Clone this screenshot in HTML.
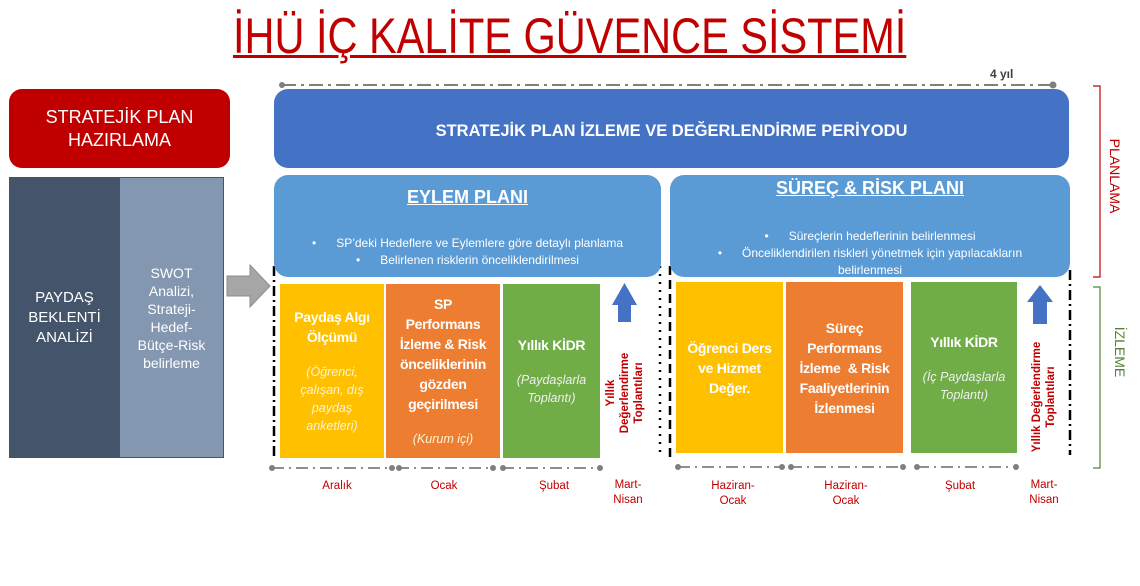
<!DOCTYPE html>
<html><head><meta charset="utf-8"><style>
body{margin:0;width:1140px;height:586px;background:#fff;position:relative;overflow:hidden;font-family:"Liberation Sans",sans-serif}
.a{position:absolute;box-sizing:border-box}
.c{display:flex;align-items:center;justify-content:center;text-align:center;flex-direction:column}
.w{color:#fff}
.b{font-weight:bold}
.vt{position:absolute;transform:rotate(-90deg);transform-origin:center;white-space:nowrap;text-align:center}
.lbl{position:absolute;color:#c00000;font-size:11.5px;text-align:center;line-height:15px;width:80px}
.tb{font-size:14px;font-weight:bold;line-height:20px;letter-spacing:-0.3px}
.it{font-size:12.5px;font-style:italic;line-height:18px;color:#fff3d0}
</style></head><body>
<div class="a" style="left:0;top:8px;width:1140px;text-align:center;color:#c00000;font-size:50px;line-height:56px;"><span style="display:inline-block;transform:scaleX(0.83);text-decoration:underline;text-decoration-thickness:3px;">İHÜ İÇ KALİTE GÜVENCE SİSTEMİ</span></div>

<div class="a c w" style="left:9px;top:89px;width:221px;height:79px;background:#c00000;border-radius:13px;font-size:18px;line-height:23px">STRATEJİK PLAN<br>HAZIRLAMA</div>
<div class="a c w" style="left:9px;top:177px;width:111px;height:281px;background:#44546a;font-size:15px;line-height:20px">PAYDAŞ<br>BEKLENTİ<br>ANALİZİ</div>
<div class="a c w" style="left:119px;top:177px;width:105px;height:281px;background:#8497b0;border:1px solid #44546a;font-size:14px;line-height:18px">SWOT<br>Analizi,<br>Strateji-<br>Hedef-<br>Bütçe-Risk<br>belirleme</div>
<svg class="a" style="left:0;top:0" width="1140" height="586">
<polygon points="227,276 250,276 250,265 270,286 250,307 250,296 227,296" fill="#a6a6a6" stroke="#8c8c8c"/>
<line x1="282" y1="85" x2="1053" y2="85" stroke="#7f7f7f" stroke-width="2" stroke-dasharray="14,5,3,5"/>
<circle cx="282" cy="85" r="3" fill="#7f7f7f"/><circle cx="1053" cy="85" r="3.5" fill="#7f7f7f"/>
<g stroke="#000" stroke-width="2.5">
<line x1="274" y1="266" x2="274" y2="460" stroke-dasharray="10,4,2,4"/>
<line x1="660" y1="266" x2="660" y2="458" stroke-dasharray="2,6"/>
<line x1="670" y1="266" x2="670" y2="458" stroke-dasharray="9,5"/>
<line x1="1070" y1="270" x2="1070" y2="455" stroke-dasharray="10,4,2,4"/>
</g>
<g stroke="#7f7f7f" stroke-width="1.8" stroke-dasharray="12,5,2,5" fill="#7f7f7f">
<line x1="272" y1="468" x2="392" y2="468"/><line x1="397" y1="468" x2="493" y2="468"/><line x1="502" y1="468" x2="600" y2="468"/>
<line x1="678" y1="467" x2="782" y2="467"/><line x1="790" y1="467" x2="903" y2="467"/><line x1="917" y1="467" x2="1016" y2="467"/>
</g>
<g fill="#7f7f7f">
<circle cx="272" cy="468" r="3"/><circle cx="392" cy="468" r="3"/><circle cx="399" cy="468" r="3"/><circle cx="493" cy="468" r="3"/><circle cx="503" cy="468" r="3"/><circle cx="600" cy="468" r="3"/>
<circle cx="678" cy="467" r="3"/><circle cx="782" cy="467" r="3"/><circle cx="791" cy="467" r="3"/><circle cx="903" cy="467" r="3"/><circle cx="917" cy="467" r="3"/><circle cx="1016" cy="467" r="3"/>
</g>
<polygon points="612,305 618,305 618,322 631,322 631,305 637,305 624.5,283" fill="#4472c4"/>
<polygon points="1027,302 1033,302 1033,324 1047,324 1047,302 1053,302 1040,285" fill="#4472c4"/>
<polyline points="1093,86 1100,86 1100,277 1093,277" fill="none" stroke="#c00000" stroke-width="1.2"/>
<polyline points="1093,287 1100,287 1100,468 1093,468" fill="none" stroke="#548235" stroke-width="1.2"/>
</svg>
<div class="a" style="left:990px;top:67px;font-size:12px;font-weight:bold;color:#404040">4 yıl</div>

<div class="a c w b" style="left:274px;top:89px;width:795px;height:79px;padding-top:5px;background:#4472c4;border-radius:14px;font-size:16.5px">STRATEJİK PLAN İZLEME VE DEĞERLENDİRME PERİYODU</div>

<div class="a w" style="left:274px;top:175px;width:387px;height:102px;background:#5b9bd5;border-radius:14px;text-align:center">
<div class="b" style="font-size:18px;margin-top:12px;text-decoration:underline">EYLEM PLANI</div>
<div style="font-size:12px;line-height:17px;margin-top:27px">•&nbsp;&nbsp;&nbsp;&nbsp;&nbsp; SP’deki Hedeflere ve Eylemlere göre detaylı planlama<br>•&nbsp;&nbsp;&nbsp;&nbsp;&nbsp; Belirlenen risklerin önceliklendirilmesi</div></div>
<div class="a w" style="left:670px;top:175px;width:400px;height:102px;background:#5b9bd5;border-radius:14px;text-align:center">
<div class="b" style="font-size:18px;margin-top:3px;text-decoration:underline">SÜREÇ &amp; RİSK PLANI</div>
<div style="font-size:12px;line-height:17px;margin-top:29px">•&nbsp;&nbsp;&nbsp;&nbsp;&nbsp; Süreçlerin hedeflerinin belirlenmesi<br>•&nbsp;&nbsp;&nbsp;&nbsp;&nbsp; Önceliklendirilen riskleri yönetmek için yapılacakların<br>belirlenmesi</div></div>

<div class="a c w" style="left:280px;top:284px;width:104px;height:174px;background:#ffc000"><div class="tb">Paydaş Algı<br>Ölçümü</div><div class="it" style="margin-top:16px">(Öğrenci,<br>çalışan, dış<br>paydaş<br>anketleri)</div></div>
<div class="a c w" style="left:386px;top:284px;width:114px;height:174px;background:#ed7d31"><div class="tb">SP<br>Performans<br>İzleme &amp; Risk<br>önceliklerinin<br>gözden<br>geçirilmesi</div><div class="it" style="margin-top:16px">(Kurum içi)</div></div>
<div class="a c w" style="left:503px;top:284px;width:97px;height:174px;background:#70ad47"><div class="tb">Yıllık KİDR</div><div class="it" style="margin-top:16px;color:#f0f0f0">(Paydaşlarla<br>Toplantı)</div></div>
<div class="vt b" style="left:570px;top:372px;width:110px;font-size:11.5px;line-height:14px;color:#c00000">Yıllık<br>Değerlendirme<br>Toplantıları</div>

<div class="a c w" style="left:676px;top:282px;width:107px;height:171px;background:#ffc000"><div class="tb">Öğrenci Ders<br>ve Hizmet<br>Değer.</div></div>
<div class="a c w" style="left:786px;top:282px;width:117px;height:171px;background:#ed7d31"><div class="tb">Süreç<br>Performans<br>İzleme &nbsp;&amp; Risk<br>Faaliyetlerinin<br>İzlenmesi</div></div>
<div class="a c w" style="left:911px;top:282px;width:106px;height:171px;background:#70ad47"><div class="tb">Yıllık KİDR</div><div class="it" style="margin-top:16px;color:#f0f0f0">(İç Paydaşlarla<br>Toplantı)</div></div>
<div class="vt b" style="left:984px;top:383px;width:120px;font-size:11.5px;line-height:14px;color:#c00000">Yıllık Değerlendirme<br>Toplantıları</div>

<div class="vt" style="left:1070px;top:168px;width:90px;font-size:14px;color:#c00000;transform:rotate(90deg)">PLANLAMA</div>
<div class="vt" style="left:1080px;top:344px;width:80px;font-size:14px;color:#548235;transform:rotate(90deg)">İZLEME</div>

<div class="lbl" style="left:297px;top:479px">Aralık</div>
<div class="lbl" style="left:404px;top:479px">Ocak</div>
<div class="lbl" style="left:514px;top:479px">Şubat</div>
<div class="lbl" style="left:588px;top:478px">Mart-<br>Nisan</div>
<div class="lbl" style="left:693px;top:479px">Haziran-<br>Ocak</div>
<div class="lbl" style="left:806px;top:479px">Haziran-<br>Ocak</div>
<div class="lbl" style="left:920px;top:479px">Şubat</div>
<div class="lbl" style="left:1004px;top:478px">Mart-<br>Nisan</div>
</body></html>
